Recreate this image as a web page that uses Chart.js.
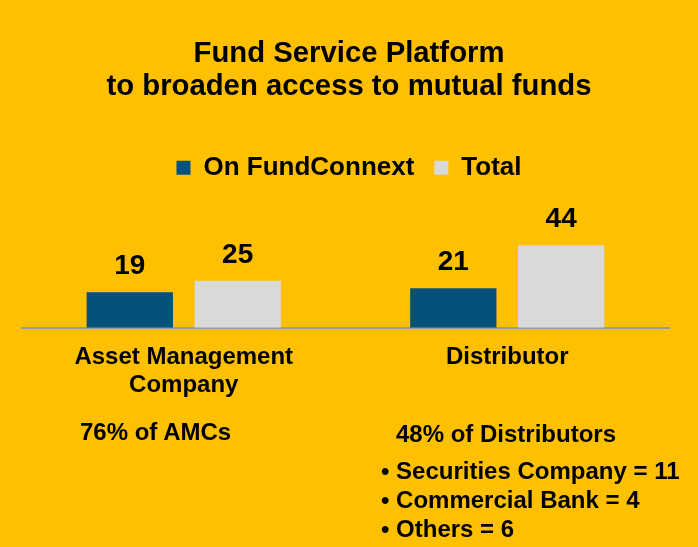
<!DOCTYPE html>
<html>
<head>
<meta charset="utf-8">
<script src="https://cdn.jsdelivr.net/npm/chart.js@4/dist/chart.umd.min.js"></script>
<style>
  html, body { margin: 0; padding: 0; background: #FFC000; }
  #wrap { position: relative; width: 698px; height: 547px; overflow: hidden; }
  #chart { position: absolute; left: 0; top: 0; }
  .note { position: absolute; font: bold 24px "Liberation Sans", Arial, sans-serif; color: #000; white-space: nowrap; line-height: 28px; }
  .bullets { line-height: 29px; }
</style>
</head>
<body>
<div id="wrap">
  <canvas id="chart" width="698" height="547"></canvas>
  <div class="note" id="amc-note" style="left:80px; top:418px;"></div>
  <div class="note" id="dist-note" style="left:396px; top:420px;"></div>
  <div class="note bullets" id="dist-list" style="left:381px; top:456px;"></div>
</div>
<script>
// data
const categories = [["Asset Management", "Company"], "Distributor"];
const seriesNames = ["On FundConnext", "Total"];
const onFundConnext = [19, 21];
const totals = [25, 44];
const titleLines = ["Fund Service Platform", "to broaden access to mutual funds"];
const shareNotes = ["76% of AMCs", "48% of Distributors"];
const distributorBreakdown = ["Securities Company = 11", "Commercial Bank = 4", "Others = 6"];

const FONT = '"Liberation Sans", Arial, sans-serif';

// notes under the axis
document.getElementById("amc-note").textContent = shareNotes[0];
document.getElementById("dist-note").textContent = shareNotes[1];
document.getElementById("dist-list").innerHTML = distributorBreakdown.map(t => "\u2022 " + t).join("<br>");

// value labels over the bars
const valueLabels = {
  id: "valueLabels",
  afterDatasetsDraw(chart) {
    const ctx = chart.ctx;
    ctx.save();
    ctx.font = "bold 28px " + FONT;
    ctx.fillStyle = "#000";
    ctx.textAlign = "center";
    ctx.textBaseline = "alphabetic";
    chart.data.datasets.forEach((ds, i) => {
      chart.getDatasetMeta(i).data.forEach((bar, j) => {
        ctx.fillText(String(ds.data[j]), bar.x, bar.y - 18);
      });
    });
    ctx.restore();
  }
};

new Chart(document.getElementById("chart"), {
  type: "bar",
  data: {
    labels: categories,
    datasets: [
      { label: seriesNames[0], data: onFundConnext, backgroundColor: "#04527A" },
      { label: seriesNames[1], data: totals, backgroundColor: "#D9D9D9" }
    ]
  },
  options: {
    responsive: false,
    animation: false,
    events: [],
    categoryPercentage: 0.667,
    barPercentage: 0.8,
    layout: { padding: { left: 22, right: 22, top: 0, bottom: 133 } },
    plugins: {
      title: {
        display: true,
        text: titleLines,
        color: "#000",
        font: { family: FONT, size: 29.3, weight: "bold", lineHeight: 1.12 },
        padding: { top: 38, bottom: 31 }
      },
      legend: {
        display: true,
        labels: {
          color: "#000",
          font: { family: FONT, size: 26, weight: "bold" },
          boxWidth: 14,
          boxHeight: 14,
          padding: 20
        }
      },
      tooltip: { enabled: false }
    },
    scales: {
      x: {
        grid: { display: false, drawTicks: false },
        border: { display: true, color: "#8C9BAD", width: 2 },
        ticks: {
          color: "#000",
          padding: 15,
          maxRotation: 0,
          font: { family: FONT, size: 24, weight: "bold", lineHeight: 1.17 }
        }
      },
      y: {
        position: "right",
        min: 0,
        max: 73,
        grid: { display: false },
        border: { display: false },
        ticks: { display: false },
        afterFit(scale) { scale.width = 7; }
      }
    }
  },
  plugins: [valueLabels]
});
</script>
</body>
</html>
